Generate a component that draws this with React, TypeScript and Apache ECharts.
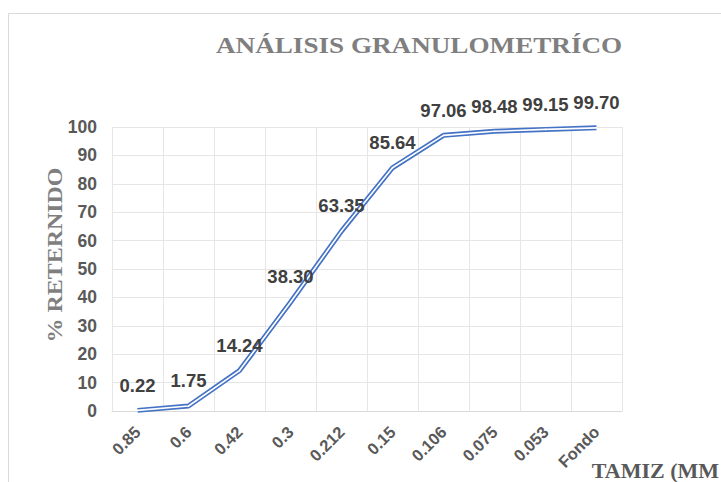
import React, { useEffect, useRef } from "react";
import * as echarts from "echarts";

const categories = ["0.85", "0.6", "0.42", "0.3", "0.212", "0.15", "0.106", "0.075", "0.053", "Fondo"];
const retained = [0.22, 1.75, 14.24, 38.3, 63.35, 85.64, 97.06, 98.48, 99.15, 99.7];
const titleText = "ANÁLISIS GRANULOMETRÍCO";
const yAxisTitle = "% RETERNIDO";
const xAxisTitle = "TAMIZ (MM";

export default function App() {
  const ref = useRef<HTMLDivElement>(null);
  useEffect(() => {
    if (!ref.current) return;
    const chart = echarts.init(ref.current, null, { renderer: "svg" });
    chart.setOption({
      animation: false,
      backgroundColor: "#ffffff",
      grid: { left: 112, right: 99, top: 127, bottom: 71, containLabel: false },
      xAxis: {
        type: "category",
        data: categories,
        boundaryGap: true,
        axisLine: { show: true, lineStyle: { color: "#d9d9d9", width: 1 } },
        axisTick: { show: false },
        splitLine: { show: true, lineStyle: { color: "#e6e6e6", width: 1 } },
        axisLabel: {
          rotate: 45,
          margin: 18,
          interval: 0,
          color: "#595959",
          fontSize: 16.5,
          fontWeight: "bold",
          fontFamily: "Liberation Sans, Arial, sans-serif",
        },
      },
      yAxis: {
        type: "value",
        min: 0,
        max: 100,
        interval: 10,
        axisLine: { show: false },
        axisTick: { show: false },
        splitLine: { show: true, lineStyle: { color: "#e6e6e6", width: 1 } },
        axisLabel: {
          margin: 15,
          color: "#595959",
          fontSize: 17.5,
          fontWeight: "bold",
          fontFamily: "Liberation Sans, Arial, sans-serif",
        },
      },
      series: [
        {
          type: "line",
          data: retained,
          symbol: "none",
          silent: true,
          lineStyle: { color: "#4472c4", width: 5 },
          z: 2,
          label: { show: false },
        },
        {
          type: "line",
          data: retained,
          symbol: "circle",
          symbolSize: 1.5,
          showSymbol: true,
          itemStyle: { color: "#ffffff" },
          lineStyle: { color: "#ffffff", width: 1.6 },
          z: 3,
          label: {
            show: true,
            position: "top",
            distance: 15,
            color: "#404040",
            fontSize: 18.5,
            fontWeight: "bold",
            fontFamily: "Liberation Sans, Arial, sans-serif",
            formatter: (p: any) => Number(p.value).toFixed(2),
          },
          labelLayout: { hideOverlap: false },
        },
      ],
      graphic: [
        {
          type: "rect",
          shape: { x: 8.5, y: 13.5, width: 760, height: 520 },
          style: { fill: "none", stroke: "#d9d9d9", lineWidth: 1 },
          silent: true,
          z: -1,
        },
        {
          type: "text",
          x: 216,
          y: 45,
          scaleX: 1.18,
          style: {
            text: titleText,
            font: "bold 23px 'Liberation Serif', 'Times New Roman', serif",
            fill: "#7f7f7f",
            align: "left",
            verticalAlign: "middle",
          },
        },
        {
          type: "text",
          x: 55,
          y: 255,
          rotation: Math.PI / 2,
          scaleX: 1.14,
          style: {
            text: yAxisTitle,
            font: "bold 21px 'Liberation Serif', 'Times New Roman', serif",
            fill: "#7f7f7f",
            align: "center",
            verticalAlign: "middle",
          },
        },
        {
          type: "text",
          x: 719,
          y: 470,
          style: {
            text: xAxisTitle,
            font: "bold 22px 'Liberation Serif', 'Times New Roman', serif",
            fill: "#595959",
            align: "right",
            verticalAlign: "middle",
          },
        },
      ],
    });
    return () => chart.dispose();
  }, []);
  return (
    <div
      ref={ref}
      style={{ position: "fixed", left: 0, top: 0, width: 721, height: 482, background: "#fff" }}
    />
  );
}
